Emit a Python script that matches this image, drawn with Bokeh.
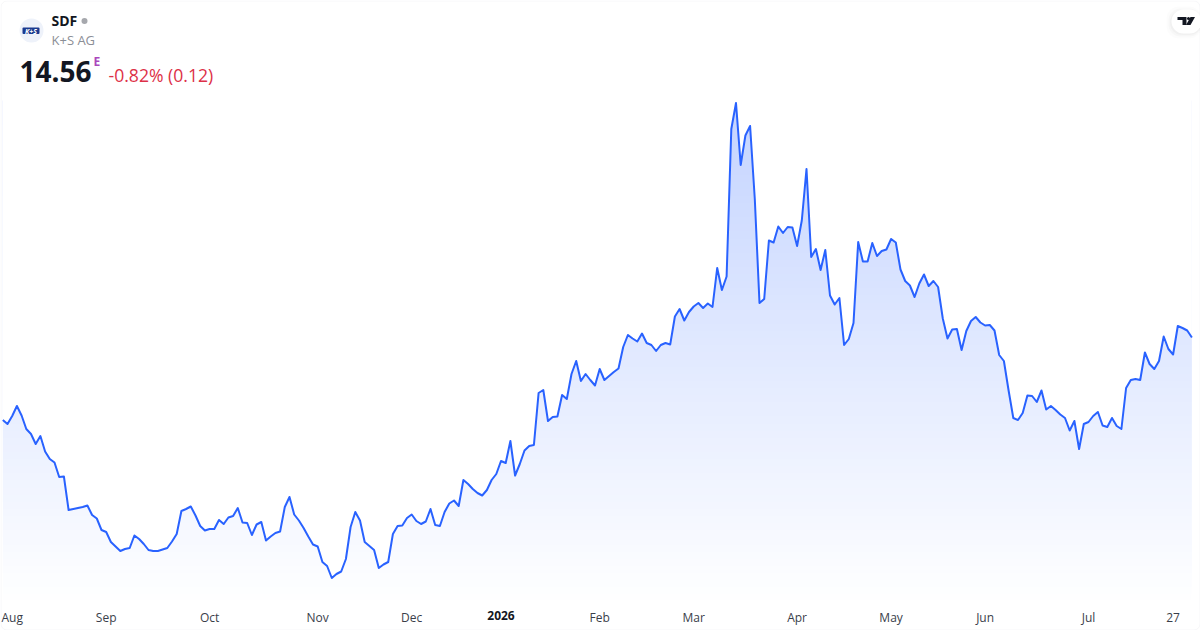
import numpy as np
from bokeh.plotting import figure
from bokeh.models import Label, BoxAnnotation, PolyAnnotation, FixedTicker, Range1d, ColumnDataSource, LinearAxis
from bokeh.embed import file_html
from bokeh.resources import INLINE

prices = [
12.91,12.83,12.99,13.19,13.00,12.73,12.63,12.43,12.59,12.28,12.13,12.06,11.77,11.78,11.11,11.13,11.15,11.17,11.20,11.01,
10.94,10.71,10.67,10.47,10.38,10.29,10.33,10.35,10.60,10.53,10.43,10.31,10.29,10.29,10.32,10.35,10.48,10.63,11.09,11.13,
11.18,11.00,10.79,10.70,10.73,10.73,10.91,10.83,10.96,10.99,11.15,10.86,10.85,10.61,10.82,10.87,10.50,10.58,10.65,10.68,
11.17,11.37,11.02,10.90,10.75,10.58,10.42,10.38,10.07,9.99,9.75,9.83,9.88,10.13,10.77,11.07,10.90,10.47,10.39,10.31,
9.95,10.02,10.07,10.63,10.79,10.80,10.95,11.02,10.89,10.83,10.88,11.13,10.81,10.79,11.07,11.24,11.30,11.19,11.71,11.63,
11.53,11.45,11.40,11.51,11.71,11.83,12.09,12.05,12.49,11.80,12.03,12.30,12.39,12.41,13.45,13.51,12.89,12.97,12.98,13.41,
13.33,13.83,14.09,13.69,13.83,13.71,13.60,13.93,13.71,13.79,13.87,13.94,14.37,14.61,14.54,14.48,14.64,14.45,14.41,14.29,
14.41,14.45,14.42,14.98,15.13,14.90,15.07,15.18,15.25,15.15,15.24,15.17,15.95,15.51,15.78,18.73,19.25,18.01,18.60,18.79,
17.33,15.25,15.33,16.50,16.46,16.78,16.65,16.77,16.76,16.39,16.90,17.93,16.17,16.33,15.91,16.31,15.40,15.22,15.35,14.41,
14.53,14.85,16.47,16.08,16.08,16.45,16.19,16.29,16.32,16.53,16.46,15.92,15.69,15.60,15.37,15.64,15.82,15.59,15.69,15.57,
14.94,14.54,14.72,14.73,14.31,14.69,14.89,14.97,14.86,14.80,14.81,14.70,14.21,14.09,13.50,12.95,12.91,13.05,13.40,13.39,
13.27,13.50,13.12,13.19,13.11,13.02,12.95,12.70,12.89,12.33,12.83,12.87,12.99,13.07,12.80,12.77,12.95,12.79,12.73,13.55,
13.71,13.73,13.71,14.26,14.03,13.93,14.09,14.58,14.33,14.22,14.79,14.75,14.70,14.56]
tick_index = [2, 22, 44, 67, 87, 127, 147, 169, 189, 209, 231, 249]
tick_labels = ["Aug", "Sep", "Oct", "Nov", "Dec", "Feb", "Mar", "Apr", "May", "Jun", "Jul", "27"]
year_index = 106
year_label = "2026"
symbol = "SDF"
name = "K+S AG"
last = "14.56"
change = "-0.82% (0.12)"

idx = np.arange(len(prices))
y_top, y_fill_bottom, y_bottom = 21.30, 9.30, 8.70
p = figure(width=1200, height=630, output_backend="svg", toolbar_location=None,
           x_range=Range1d(-0.489, 254.83), y_range=Range1d(y_bottom, y_top),
           x_axis_location=None, y_axis_location=None,
           min_border_left=0, min_border_right=0, min_border_top=0, min_border_bottom=0,
           frame_width=1200, frame_height=630, margin=(0, 0, 0, 0),
           border_fill_color="#ffffff", background_fill_color="#ffffff", outline_line_color=None)
p.grid.visible = False


def add_axis(ticks, labels, style, color, standoff):
    ax = LinearAxis(fixed_location=y_fill_bottom, ticker=FixedTicker(ticks=ticks),
                    major_label_overrides=dict(zip(ticks, labels)),
                    major_tick_line_color=None, minor_tick_line_color=None, axis_line_color=None,
                    major_label_standoff=standoff, major_label_text_font="Open Sans",
                    major_label_text_font_size="12px", major_label_text_font_style=style,
                    major_label_text_color=color)
    p.add_layout(ax, "below")


# vertical gradient under the line
ROWS = 500
grad = np.zeros((ROWS, 1, 4), dtype=np.uint8)
grad[..., 0], grad[..., 1], grad[..., 2] = 41, 98, 255
grad[:, 0, 3] = (255 * np.linspace(0.005, 0.28, ROWS)).astype(np.uint8)
img = grad.view(dtype=np.uint32).reshape(ROWS, 1)
p.image_rgba(image=[img], x=0, y=y_fill_bottom, dw=float(idx[-1]), dh=10.0)
src = ColumnDataSource(dict(x=idx, y=prices, top=[y_top] * len(prices)))
p.varea(x="x", y1="y", y2="top", source=src, fill_color="#ffffff")
p.line(x="x", y="y", source=src, line_color="#2962ff", line_width=2, line_join="round")

add_axis(tick_index, tick_labels, "normal", "#3a3e4a", 2)
add_axis([year_index], [year_label], "bold", "#131722", 4)


def label(x, y, text, **kw):
    p.add_layout(Label(x=x, y=y, x_units="canvas", y_units="canvas", text=text, **kw))


def box(l, r, t, b, fill, radius=0, alpha=1.0, line=None):
    p.add_layout(BoxAnnotation(left=l, right=r, top=t, bottom=b, left_units="canvas", right_units="canvas",
                               top_units="canvas", bottom_units="canvas", fill_color=fill, fill_alpha=alpha,
                               line_color=line, border_radius=radius, line_width=1))


box(0.5, 1199.5, 0.5, 629.5, None, radius=6, alpha=0, line="#e4e6ea")

# header
box(19, 43, 18, 42, "#eef2fa", radius=12)
box(22, 39, 27, 33.5, "#1b3a8f", radius=1)
label(30.5, 30.5, "K+S", text_font="Open Sans", text_font_size="7px", text_font_style="bold italic",
      text_color="#ffffff", text_align="center", text_baseline="middle")
label(51, 20, symbol, text_font="Open Sans", text_font_size="14px", text_font_style="bold",
      text_color="#131722", text_baseline="middle")
box(81, 87, 17.5, 23.5, "#a6a8ad", radius=3)
label(51, 39.5, name, text_font="Open Sans", text_font_size="13px", text_color="#8b8e96", text_baseline="middle")
label(19, 70.5, last, text_font="Open Sans", text_font_size="28px", text_font_style="bold",
      text_color="#131722", text_baseline="middle")
label(93, 61, "E", text_font="Open Sans", text_font_size="12px", text_font_style="bold",
      text_color="#ab47bc", text_baseline="middle")
label(108, 74, change, text_font="Open Sans", text_font_size="17.6px", text_color="#dd3148", text_baseline="middle")

# logo pill
for grow, a in ((5, 0.012), (3, 0.018), (1.5, 0.025)):
    box(1171 - grow, 1201, 10 - grow + 1, 33 + grow, "#000000", radius=12, alpha=a)
box(1171, 1201, 9, 33, "#ffffff", radius=12)
box(1186.5, 1189.5, 16.5, 19.5, "#131722", radius=2)
p.add_layout(PolyAnnotation(xs=[1177, 1186, 1186, 1182, 1182, 1177],
                            ys=[16.5, 16.5, 24.5, 24.5, 19.5, 19.5],
                            xs_units="canvas", ys_units="canvas", fill_color="#131722", fill_alpha=1, line_color=None))
p.add_layout(PolyAnnotation(xs=[1190, 1194.5, 1190, 1185.5], ys=[16.5, 16.5, 24.5, 24.5],
                            xs_units="canvas", ys_units="canvas", fill_color="#131722", fill_alpha=1, line_color=None))

open("out.html", "w").write(file_html(p, INLINE))
